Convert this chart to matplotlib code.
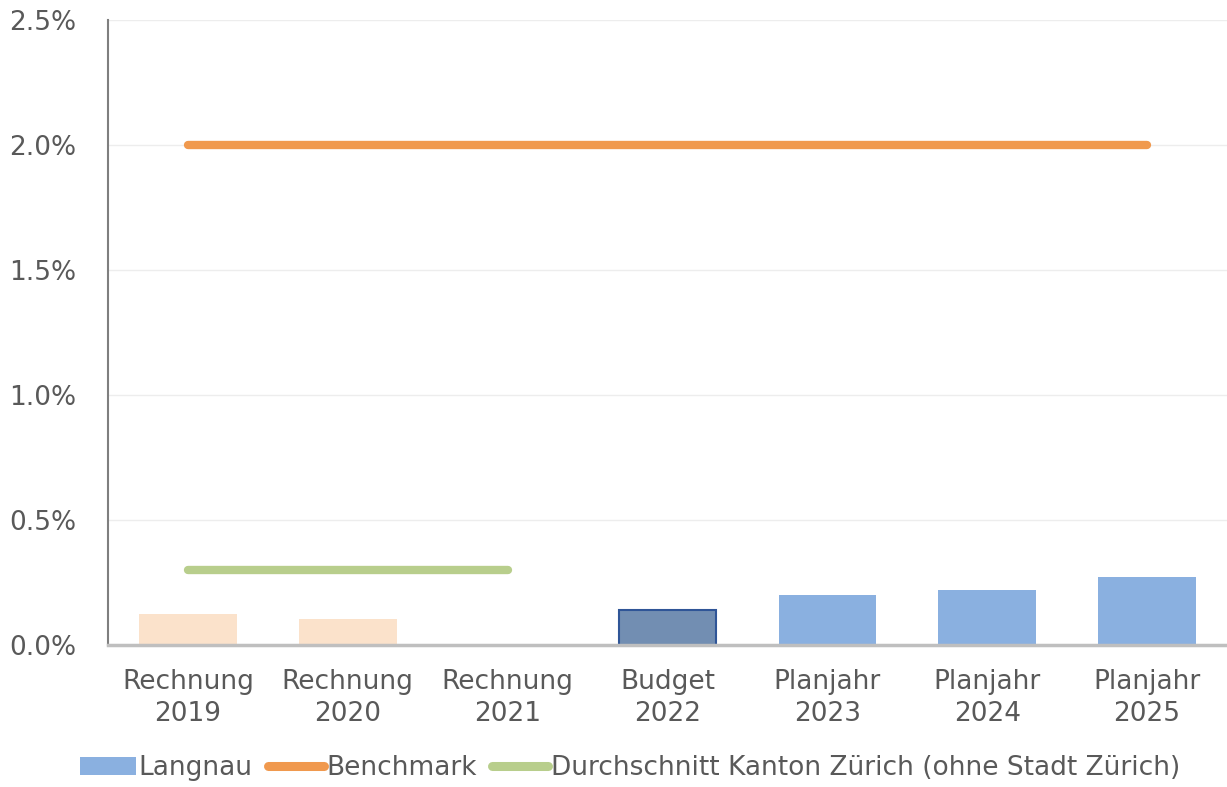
import matplotlib.pyplot as plt
from matplotlib.ticker import FuncFormatter
from matplotlib.patches import Patch
from matplotlib.lines import Line2D

categories = ['Rechnung\n2019', 'Rechnung\n2020', 'Rechnung\n2021', 'Budget\n2022',
              'Planjahr\n2023', 'Planjahr\n2024', 'Planjahr\n2025']
langnau = [0.124, 0.104, 0.0, 0.14, 0.20, 0.22, 0.272]
benchmark = [2.0, 2.0, 2.0, 2.0, 2.0, 2.0, 2.0]
kanton = [0.30, 0.30, 0.30]

bar_colors = ['#FBE2CB', '#FBE2CB', '#FBE2CB', '#728EB2', '#8AB0E0', '#8AB0E0', '#8AB0E0']
edge_colors = ['none', 'none', 'none', '#2F5597', 'none', 'none', 'none']

fig = plt.figure(figsize=(12.27, 7.87), dpi=100)
ax = fig.add_axes([108 / 1227, 1 - 645 / 787, 1119 / 1227, 625 / 787])

x = list(range(len(categories)))
ax.bar(x, langnau, width=0.61, color=bar_colors, edgecolor=edge_colors, linewidth=1.5, zorder=2)
ax.plot(x, benchmark, color='#F0994E', linewidth=6, solid_capstyle='round', zorder=3)
ax.plot(x[:len(kanton)], kanton, color='#B8CE8C', linewidth=6, solid_capstyle='round', zorder=3)

ax.set_xlim(-0.5, 6.5)
ax.set_ylim(0, 2.5)
ax.set_yticks([0, 0.5, 1.0, 1.5, 2.0, 2.5])
ax.yaxis.set_major_formatter(FuncFormatter(lambda v, p: f'{v:.1f}%'))
ax.set_xticks(x)
ax.set_xticklabels(categories, linespacing=1.3)
ax.grid(axis='y', color='#EDEDED', linewidth=1, zorder=0)
ax.set_axisbelow(True)

for s in ['top', 'right']:
    ax.spines[s].set_visible(False)
ax.spines['left'].set_color('#7F7F7F')
ax.spines['left'].set_linewidth(1.5)
ax.spines['bottom'].set_color('#BFBFBF')
ax.spines['bottom'].set_linewidth(2.5)
ax.tick_params(axis='both', length=0, labelsize=19, colors='#595959')
ax.tick_params(axis='x', pad=17)
ax.tick_params(axis='y', pad=0)
for lbl in ax.get_yticklabels():
    lbl.set_horizontalalignment('left')
    lbl.set_x(-99 / 1119)

handles = [Patch(facecolor='#8AB0E0', edgecolor='none'),
           Line2D([0], [0], color='#F0994E', linewidth=6.5, solid_capstyle='round'),
           Line2D([0], [0], color='#B8CE8C', linewidth=6.5, solid_capstyle='round')]
labels = ['Langnau', 'Benchmark', 'Durchschnitt Kanton Zürich (ohne Stadt Zürich)']
fig.legend(handles, labels, loc='center', bbox_to_anchor=(630 / 1227, 1 - 768 / 787),
           ncol=3, frameon=False, fontsize=19, labelcolor='#595959',
           handlelength=2.1, handleheight=0.7, handletextpad=0.1, columnspacing=0.6)

fig.savefig('out.png', dpi=100)
